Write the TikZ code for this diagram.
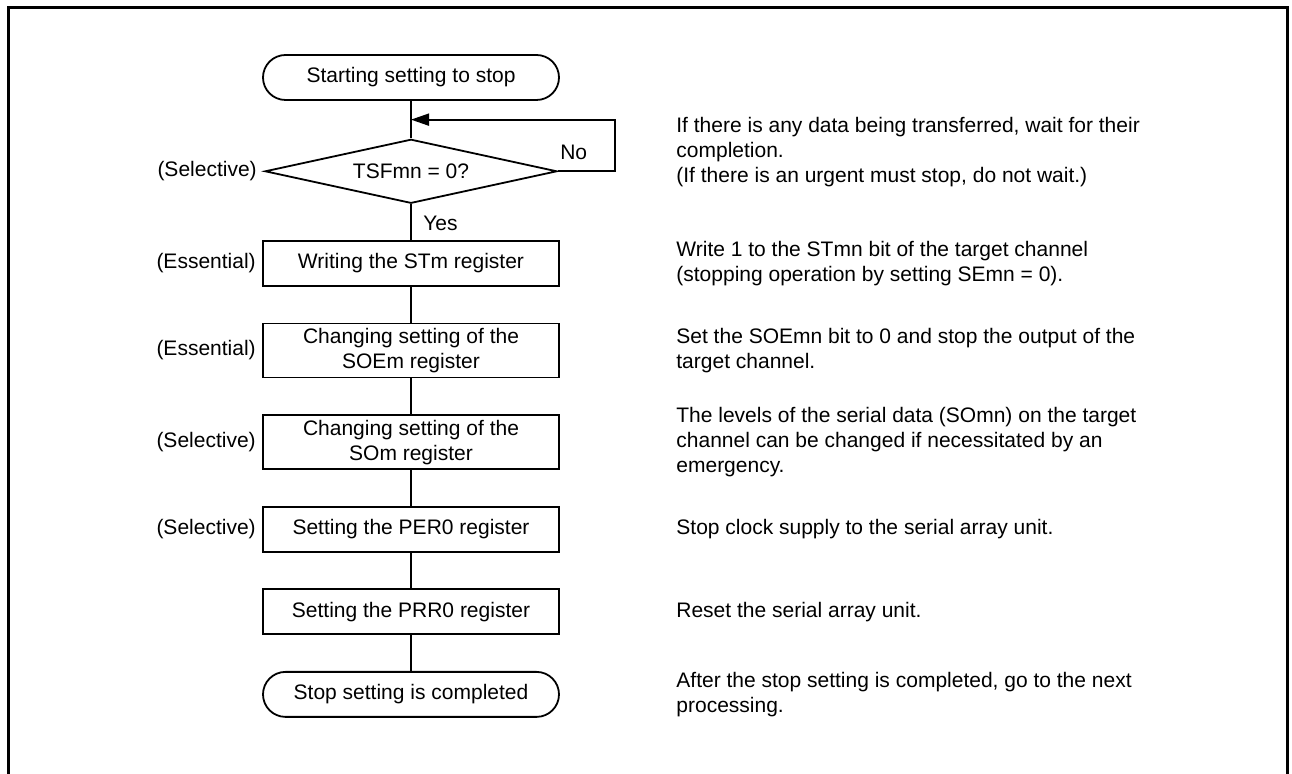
\documentclass[tikz,border=0pt]{standalone}
\usepackage{fontspec}
\setmainfont{Liberation Sans}
\usetikzlibrary{shapes.geometric, arrows.meta, positioning}
\tikzstyle{startstop} = [
    rectangle,
    rounded corners=11.25pt,
    minimum width=148pt,
    minimum height=22.5pt,
    draw=black,
    line width=0.9pt
]
\tikzstyle{process} = [
    rectangle,
    minimum width=148pt,
    minimum height=22.5pt,
    inner sep=2pt,
    align=center,
    draw=black,
    line width=0.9pt
]
\tikzstyle{decision} = [
    diamond,
    aspect=4.5,
    inner sep=0pt,
    minimum width=146pt,
    minimum height=32pt,
    draw=black,
    line width=0.9pt
]
\tikzstyle{tag} = [inner sep=0pt]
\tikzstyle{note} = [inner sep=0pt, align=left, anchor=west]
\tikzstyle{line} = [line width=0.9pt]
\tikzstyle{arrow} = [line width=0.9pt,-{Triangle[length=9pt,width=6pt]}]
\tikzstyle{frame} = [line width=1.5pt]

\begin{document}
\begin{tikzpicture}[node distance=17.9pt, font=\fontsize{10.5}{12.5}\selectfont]

\useasboundingbox (0,0) rectangle (646pt,-387pt);
\draw [frame] (4pt,-387pt) -- (4pt,-4pt) -- (643.75pt,-4pt) -- (643.75pt,-387pt);

\node (start) [startstop] at (205.5pt,-38.75pt) {Starting setting to stop};

\node (dia) [decision, below=18.75pt of start] {TSFmn = 0?};

\node (box1) [process, below=of dia]
{Writing the STm register};

\node (box2) [process, below=of box1, minimum height=27pt]
{Changing setting of the\\SOEm register};

\node (box3) [process, below=of box2, minimum height=27pt]
{Changing setting of the\\SOm register};

\node (box4) [process, below=of box3]
{Setting the PER0 register};

\node (box5) [process, below=of box4]
{Setting the PRR0 register};

\node (stop) [startstop, below=of box5]
{Stop setting is completed};

\path (start.south) -- (dia.north) coordinate[midway] (join);

\draw [line] (start) -- (dia);
\draw [arrow] (dia.east) -- ++(28.5pt,0) |- (join);
\draw [line] (dia) -- (box1);
\draw [line] (box1) -- (box2);
\draw [line] (box2) -- (box3);
\draw [line] (box3) -- (box4);
\draw [line] (box4) -- (box5);
\draw [line] (box5) -- (stop);

\node (no) [tag, anchor=base west] at ([shift={(1pt,5.75pt)}]dia.east) {No};
\node (yes) [tag, anchor=base west] at ([shift={(6pt,-13.25pt)}]dia.south) {Yes};

\node (t0) [tag, left=3.5pt of dia.west] {(Selective)};
\node (t1) [tag, left=3pt of box1] {(Essential)};
\node (t2) [tag, left=3pt of box2] {(Essential)};
\node (t3) [tag, left=3pt of box3] {(Selective)};
\node (t4) [tag, left=3pt of box4] {(Selective)};

\coordinate (notex) at (338pt,0);
\node (n0) [note, yshift=9.5pt] at (notex |- dia)
{If there is any data being transferred, wait for their\\completion.\\(If there is an urgent must stop, do not wait.)};
\node (n1) [note] at (notex |- box1)
{Write 1 to the STmn bit of the target channel\\(stopping operation by setting SEmn = 0).};
\node (n2) [note] at (notex |- box2)
{Set the SOEmn bit to 0 and stop the output of the\\target channel.};
\node (n3) [note] at (notex |- box3)
{The levels of the serial data (SOmn) on the target\\channel can be changed if necessitated by an\\emergency.};
\node (n4) [note] at (notex |- box4)
{Stop clock supply to the serial array unit.};
\node (n5) [note] at (notex |- box5)
{Reset the serial array unit.};
\node (n6) [note] at (notex |- stop)
{After the stop setting is completed, go to the next\\processing.};

\end{tikzpicture}
\end{document}
